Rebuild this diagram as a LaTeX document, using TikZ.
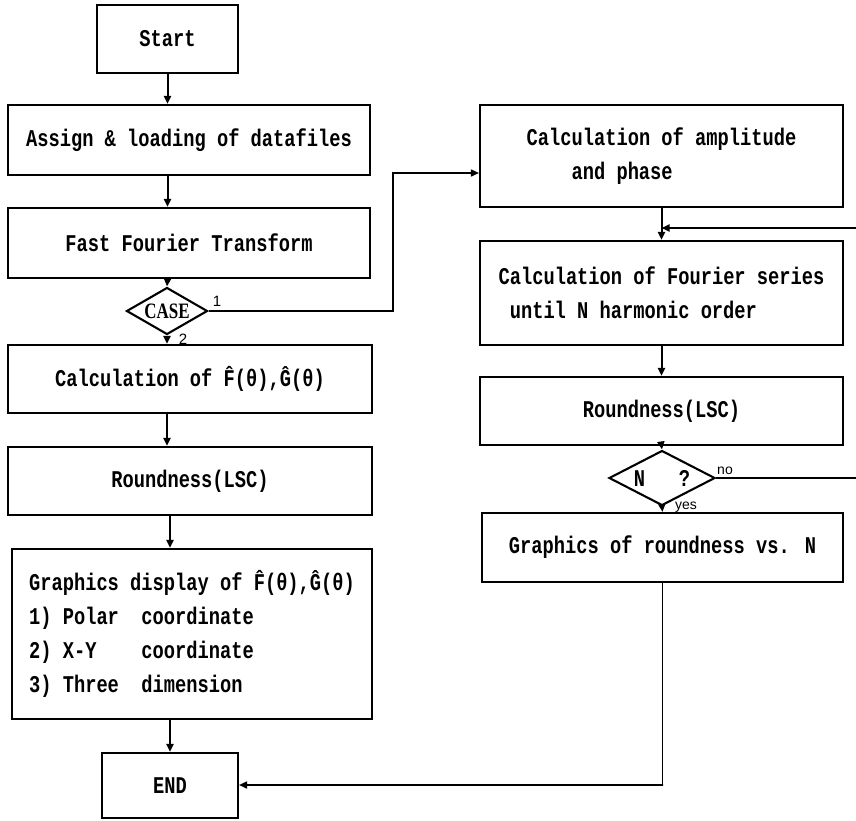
\documentclass[tikz,border=0pt]{standalone}
\usepackage{fontspec}
\setmainfont{Liberation Serif}
\newfontfamily\monob[FakeStretch=0.78]{Liberation Mono}
\newfontfamily\casef[FakeStretch=0.77]{Liberation Serif}
\newfontfamily\sansf{Liberation Sans}
\usetikzlibrary{shapes.geometric,arrows.meta}
\begin{document}
\begin{tikzpicture}[x=1pt,y=-1pt,
  flowbox/.style={draw, line width=2.1pt, inner sep=0pt, align=center,
    font=\monob\bfseries\fontsize{24}{34}\selectfont},
  flowdia/.style={draw, diamond, line width=2.1pt, inner sep=0pt},
  conn/.style={line width=2pt, -{Triangle[length=8pt,width=7pt]}},
  plain/.style={line width=1.6pt},
  lab/.style={font=\sansf\fontsize{15}{15}\selectfont, inner sep=0pt}
]
\useasboundingbox (0,0) rectangle (856,820);
% left column
\node[flowbox, minimum width=141pt, minimum height=68pt] (start) at (167.5,39) {Start};
\node[flowbox, minimum width=362pt, minimum height=70pt] (assign) at (189,140) {Assign \& loading of datafiles};
\node[flowbox, minimum width=362pt, minimum height=70pt] (fft) at (189,243) {Fast Fourier Transform};
\node[flowdia, minimum width=81pt, minimum height=47pt] (case) at (167,311) {};
\node[font=\casef\bfseries\fontsize{22}{22}\selectfont, inner sep=0pt] (casetxt) at (case.center) {CASE};
\node[flowbox, minimum width=364pt, minimum height=68pt] (calcf) at (190,379) {Calculation of \^{F}(θ),\^{G}(θ)};
\node[flowbox, minimum width=364pt, minimum height=68pt] (roundl) at (190,481) {Roundness(LSC)};
\node[flowbox, minimum width=360pt, minimum height=170pt, align=left] (gdisp) at (192,634)
  {Graphics display of \^{F}(θ),\^{G}(θ)\\1)~Polar~~coordinate\\2)~X-Y~~~~coordinate\\3)~Three~~dimension};
\node[flowbox, minimum width=136pt, minimum height=65pt] (endn) at (170,785.5) {END};
% right column
\node[flowbox, minimum width=363pt, minimum height=102pt, align=left] (amp) at (661.5,156)
  {Calculation of amplitude\\\hspace*{44.9pt}and phase};
\node[flowbox, minimum width=363pt, minimum height=104pt, align=left] (fourier) at (661.5,293)
  {Calculation of Fourier series\\\hspace*{11.2pt}until N harmonic order};
\node[flowbox, minimum width=363pt, minimum height=68pt] (roundr) at (661.5,411) {Roundness(LSC)};
\node[flowdia, minimum width=106pt, minimum height=55pt] (ndia) at (662,478) {};
\node[font=\monob\bfseries\fontsize{24}{24}\selectfont, inner sep=0pt] (ntxt) at (ndia.center) {N~~~?};
\node[flowbox, minimum width=361pt, minimum height=69pt] (gvn) at (662.5,547.5) {Graphics of roundness vs. N};
% labels
\node[lab] (l1) at (217,301) {1};
\node[lab] (l2) at (183,339) {2};
\node[lab, font=\sansf\fontsize{14}{14}\selectfont] (lno) at (725,471) {no};
\node[lab, font=\sansf\fontsize{14}{14}\selectfont] (lyes) at (686,507) {yes};
% coordinates
\coordinate (k1) at (393,173);
\coordinate (loopin) at (856,228);
\coordinate (noend) at (856,478);
\coordinate (k2) at (663,785);
% left connectors
\draw[conn] (start.south) -- (start.south |- assign.north);
\draw[conn] (start.south |- assign.south) -- (start.south |- fft.north);
\draw[conn] (start.south |- fft.south) -- (case.north);
\draw[conn] (case.south) -- (case.south |- calcf.north);
\draw[conn] (case.south |- calcf.south) -- (case.south |- roundl.north);
\draw[conn] (endn.north |- roundl.south) -- (endn.north |- gdisp.north);
\draw[conn] (endn.north |- gdisp.south) -- (endn.north);
% case 1 branch
\draw[conn, line width=1.6pt] (case.east) -| (k1) -- (k1 -| amp.west);
% right connectors
\draw[conn] (amp.south) -- (fourier.north);
\draw[conn] (fourier.south) -- (roundr.north);
\draw[conn] (roundr.south) -- (ndia.north);
\draw[conn] (ndia.south) -- (gvn.north);
\draw[plain] (ndia.east) -- (noend);
\draw[conn] (loopin) -- (loopin -| fourier.north);
\draw[conn, line width=1.6pt] (gvn.south) |- (k2) -- (k2 -| endn.east);
\end{tikzpicture}
\end{document}
